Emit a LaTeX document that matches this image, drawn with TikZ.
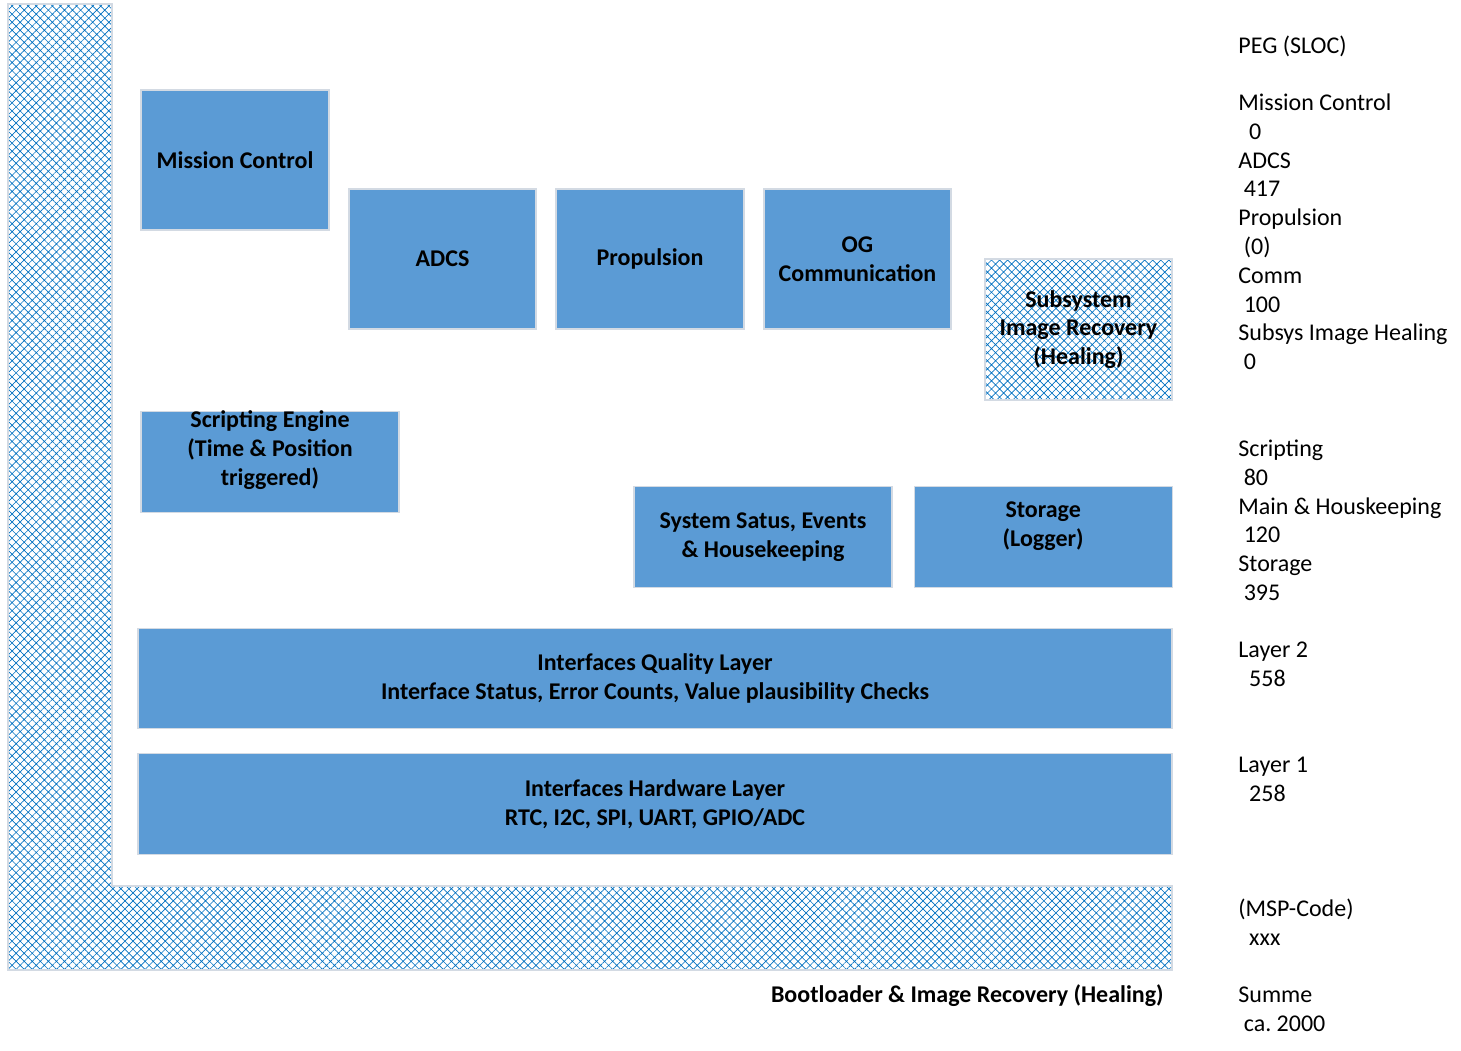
\documentclass[tikz,border=0pt]{standalone}
\usepackage{fontspec}
\setmainfont{Carlito}
\usetikzlibrary{positioning, patterns.meta}
\definecolor{boxblue}{HTML}{5B9BD5}
\definecolor{hatchblue}{HTML}{0070C0}
\definecolor{edgegray}{HTML}{D3DAE3}
\frenchspacing

\begin{document}
\begin{tikzpicture}[
    x=0.5pt, y=-0.5pt,
    every node/.style={align=center, font=\fontsize{12}{14.4}\selectfont},
    blockbox/.style={rectangle, fill=boxblue, draw=edgegray, line width=0.6pt, inner sep=0pt, font=\fontsize{12}{14.4}\selectfont\bfseries},
    hatchfill/.style={pattern={Hatch[angle=45, distance=2.85pt, line width=0.33pt]}, pattern color=hatchblue, draw=edgegray, line width=0.6pt},
    slocnote/.style={anchor=north west, align=left, inner sep=0pt}
]
\useasboundingbox (0,0) rectangle (1461,1050);

% bootloader area
\draw[hatchfill] (8,4) -- (112,4) -- (112,886) -- (1172,886) -- (1172,970) -- (8,970) -- cycle;
\node (bootloader) [anchor=east, inner sep=0pt, font=\fontsize{12}{14.4}\selectfont\bfseries] at (1164,996) {Bootloader \& Image Recovery (Healing)};

% applications
\node (mission_control) [blockbox, minimum width=94pt, minimum height=70pt] at (235,160) {Mission Control};
\node (adcs) [blockbox, minimum width=93.5pt, minimum height=70pt] at (442.5,259) {ADCS};
\node (propulsion) [blockbox, minimum width=94pt, minimum height=70pt, right=9.4pt of adcs] {Propulsion};
\node (og_comm) [blockbox, minimum width=93.5pt, minimum height=70pt, right=9.4pt of propulsion] {OG\\Communication};
\node (image_recovery) [blockbox, hatchfill, minimum width=93.5pt, minimum height=70.5pt] at (1078.5,329.5) {Subsystem\\Image Recovery\\(Healing)};

% services
\node (scripting_engine) [blockbox, minimum width=129pt, minimum height=50.5pt,
    label={[name=scripting_text, yshift=6pt, font=\fontsize{12}{14.4}\selectfont\bfseries]center:Scripting Engine\\(Time \& Position\\triggered)}] at (270,462) {};
\node (system_status) [blockbox, minimum width=129pt, minimum height=50.5pt] at (763,537) {System Satus, Events\\\& Housekeeping};
\node (storage_logger) [blockbox, minimum width=129pt, minimum height=50.5pt, right=10.5pt of system_status,
    label={[name=storage_text, yshift=5.5pt, font=\fontsize{12}{14.4}\selectfont\bfseries]center:Storage\\(Logger)}] {};

% layers
\node (quality_layer) [blockbox, minimum width=517pt, minimum height=50pt] at (655,678.5) {Interfaces Quality Layer\\Interface Status, Error Counts, Value plausibility Checks};
\node (hardware_layer) [blockbox, minimum width=517pt, minimum height=50.5pt, below=12pt of quality_layer] {Interfaces Hardware Layer\\RTC, I2C, SPI, UART, GPIO/ADC};

% SLOC column
\node (peg_header) [slocnote] at (1238,33) {\strut PEG (SLOC)};
\node (peg_apps) [slocnote] at (1238,90) {\strut Mission Control\\\hspace*{5.4pt}0\\ADCS\\\hspace*{2.7pt}417\\Propulsion\\\hspace*{2.7pt}(0)\\Comm\\\hspace*{2.7pt}100\\Subsys Image Healing\\\hspace*{2.7pt}0};
\node (peg_services) [slocnote] at (1238,436) {\strut Scripting\\\hspace*{2.7pt}80\\Main \& Houskeeping\\\hspace*{2.7pt}120\\Storage\\\hspace*{2.7pt}395};
\node (peg_layer2) [slocnote] at (1238,637) {\strut Layer 2\\\hspace*{5.4pt}558};
\node (peg_layer1) [slocnote] at (1238,752) {\strut Layer 1\\\hspace*{5.4pt}258};
\node (peg_msp) [slocnote] at (1238,896) {\strut (MSP-Code)\\\hspace*{5.4pt}xxx};
\node (peg_summe) [slocnote] at (1238,982) {\strut Summe\\\hspace*{2.7pt}ca. 2000};
\end{tikzpicture}
\end{document}
